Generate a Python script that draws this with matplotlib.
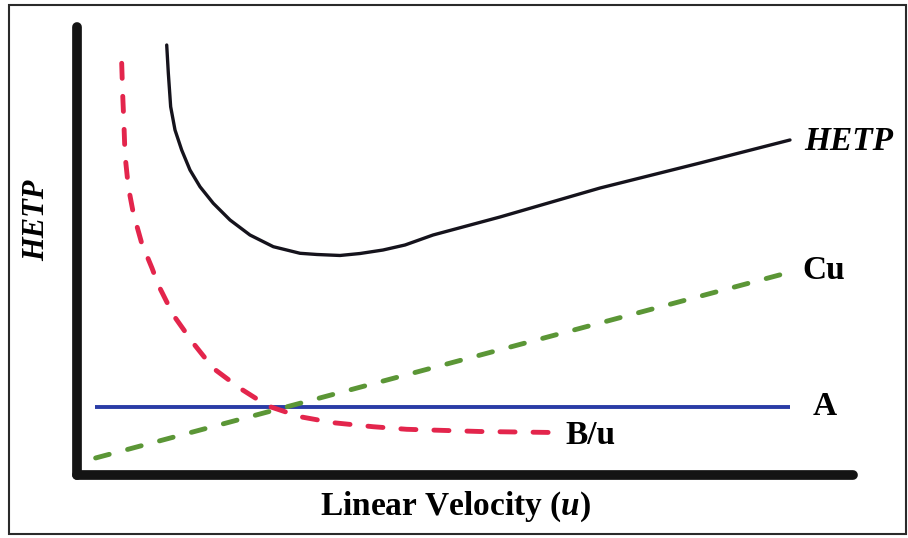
import matplotlib
matplotlib.use("Agg")
import matplotlib.pyplot as plt
from matplotlib.patches import Rectangle

plt.rcParams['font.family'] = ['Liberation Serif', 'DejaVu Serif']
plt.rcParams['mathtext.fontset'] = 'custom'
plt.rcParams['mathtext.it'] = 'Liberation Serif:italic:bold'
plt.rcParams['mathtext.rm'] = 'Liberation Serif:bold'

# curves (arbitrary units, axes run 0..10 on both sides)
hetp_x = [1.156, 1.177, 1.207, 1.263, 1.349, 1.456, 1.585, 1.756, 1.972, 2.229,
          2.530, 2.874, 3.093, 3.389, 3.647, 3.943, 4.227, 4.588, 5.451, 6.740,
          8.028, 9.188]
hetp_y = [9.598, 8.967, 8.221, 7.701, 7.254, 6.808, 6.435, 6.065, 5.692, 5.357,
          5.096, 4.949, 4.922, 4.900, 4.944, 5.022, 5.134, 5.357, 5.759, 6.406,
          6.964, 7.478]

bu_x = [0.576, 0.589, 0.606, 0.619, 0.661, 0.726, 0.834, 0.966, 1.048, 1.241,
        1.499, 1.756, 2.101, 2.461, 2.874, 3.303, 3.814, 4.249, 5.193, 6.134]
bu_y = [9.190, 8.482, 7.775, 7.143, 6.435, 5.841, 5.172, 4.621, 4.241, 3.571,
        2.940, 2.382, 1.935, 1.540, 1.301, 1.167, 1.078, 1.020, 0.971, 0.949]

cu_x = [0.24, 9.15]
cu_y = [0.38, 4.51]

a_x = [0.23, 9.19]
a_y = [1.52, 1.52]

labels = ['HETP', 'Cu', 'A', 'B/u']

W, H = 908, 538
fig = plt.figure(figsize=(W / 100, H / 100), dpi=100)
ax = fig.add_axes([77 / W, (H - 475) / H, (853 - 77) / W, (475 - 27) / H])
ax.set_xlim(0, 10)
ax.set_ylim(0, 10)

ax.plot(a_x, a_y, color='#2a3ca6', lw=2.8, solid_capstyle='butt')
ax.plot(cu_x, cu_y, color='#5b9636', lw=3.5, dashes=(2.9, 3.9), dash_capstyle='round')
ax.plot(bu_x, bu_y, color='#e3254c', lw=3.5, dashes=(3.1, 3.7), dash_capstyle='round')
ax.plot(hetp_x, hetp_y, color='#15131c', lw=2.4, solid_capstyle='round',
        solid_joinstyle='round')

# end labels
ax.annotate(labels[0], (hetp_x[-1], hetp_y[-1]), xytext=(10, -1), textcoords='offset points',
            fontsize=24, fontweight='bold', fontstyle='italic', va='center', ha='left')
ax.annotate(labels[1], (cu_x[-1], cu_y[-1]), xytext=(11, 2), textcoords='offset points',
            fontsize=24, fontweight='bold', va='center', ha='left')
ax.annotate(labels[2], (a_x[-1], a_y[-1]), xytext=(16, 0), textcoords='offset points',
            fontsize=24, fontweight='bold', va='center', ha='left')
ax.annotate(labels[3], (bu_x[-1], bu_y[-1]), xytext=(9, -2), textcoords='offset points',
            fontsize=24, fontweight='bold', va='center', ha='left')

for s in ['top', 'right']:
    ax.spines[s].set_visible(False)
for s in ['left', 'bottom']:
    ax.spines[s].set_linewidth(7)
    ax.spines[s].set_color('#141414')
    ax.spines[s].set_capstyle('round')
ax.set_xticks([])
ax.set_yticks([])
ax.patch.set_alpha(0)

fig.text(456 / W, 1 - 507 / H, r'Linear Velocity ($u$)', fontsize=24, fontweight='bold',
         ha='center', va='center')
fig.text(37 / W, 1 - 220 / H, 'HETP', fontsize=22, fontweight='bold', fontstyle='italic',
         rotation=90, ha='center', va='center')

fig.patches.append(Rectangle((9 / W, 1 - 534 / H), (906 - 9) / W, (534 - 5) / H,
                             transform=fig.transFigure, fill=False, lw=1.5,
                             edgecolor='#2a2a2a'))

fig.savefig('out.png', dpi=100)
